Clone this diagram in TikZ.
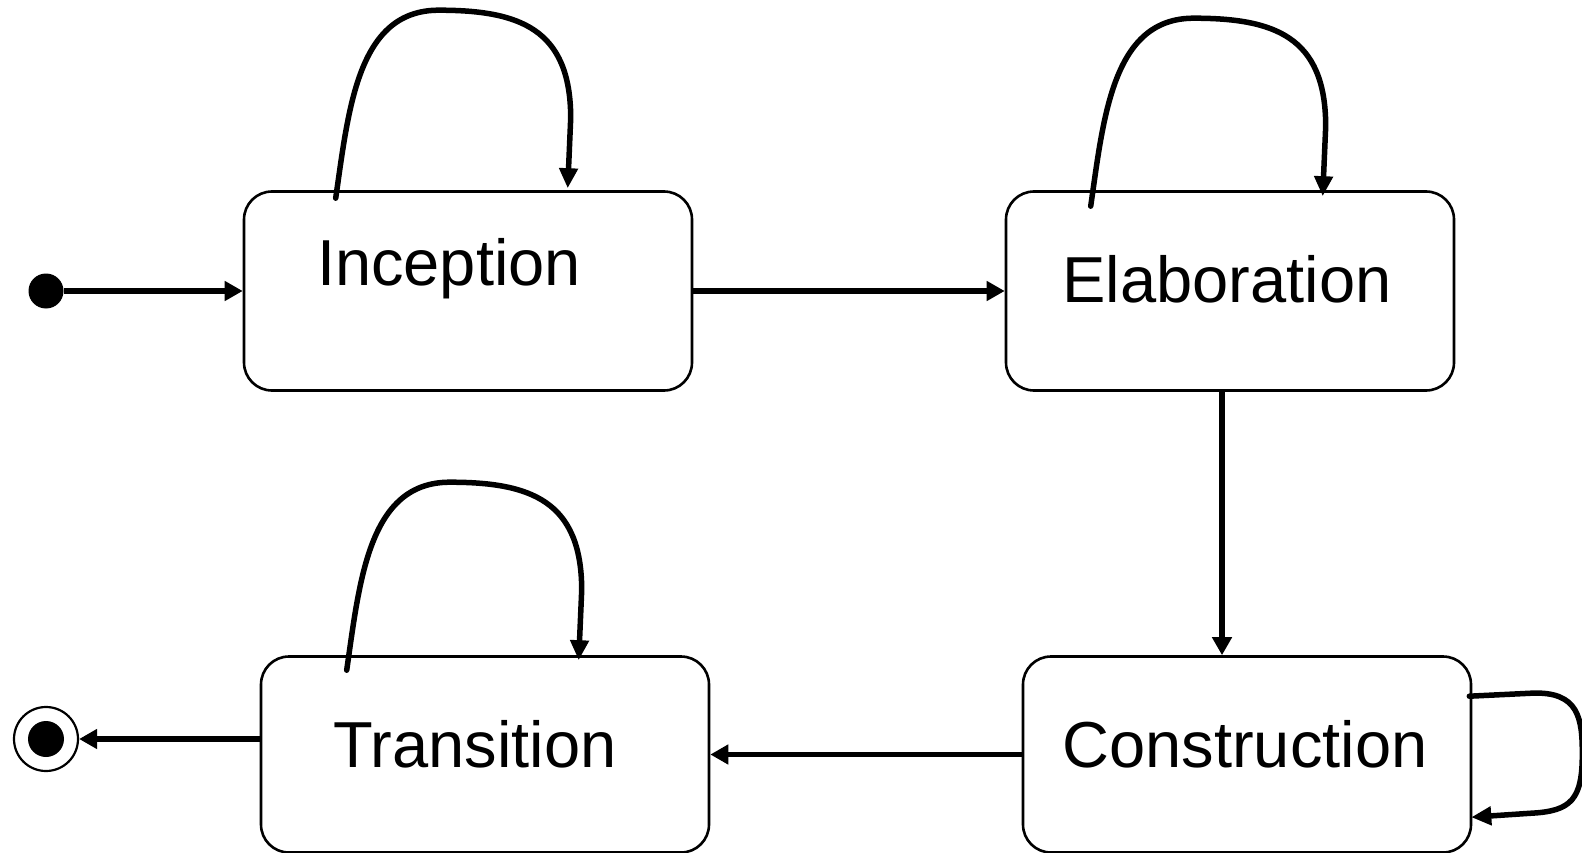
\documentclass[tikz,border=0pt]{standalone}
\usepackage{fontspec}
\setmainfont{Liberation Sans}
\usetikzlibrary{arrows.meta,calc}

\tikzset{
  state/.style={draw, line width=2.6pt, rounded corners=28pt,
    minimum width=448pt, minimum height=199pt, inner sep=0pt},
  statename/.style={anchor=base, inner sep=0pt,
    font=\fontsize{65}{78}\selectfont},
  flow/.style={line width=5.5pt, -{Triangle[length=18pt,width=19pt]}},
  selfloop/.style={line width=5.5pt, line cap=round,
    -{Triangle[length=20pt,width=18pt]}},
  arcloop/.pic={
    \draw[selfloop] (93,8) .. controls (106,-82) and (115,-180) .. (196,-180)
      .. controls (276,-180) and (328,-162) .. (328,-72) -- (325,-2);
  }
}

\begin{document}
\begin{tikzpicture}[x=1pt,y=-1pt]
\useasboundingbox (0,0) rectangle (1582,853);

% states
\node[state] (inc) at (468,291) {};
\node[state] (ela) at (1230,291) {};
\node[state, minimum height=196pt] (tra) at (485,754.5) {};
\node[state, minimum height=196pt] (con) at (1247,754.5) {};

\node[statename] at (449,285) {Inception};
\node[statename] at (1227,302) {Elaboration};
\node[statename] at (475,767) {Transition};
\node[statename] at (1245,767) {Construction};

% initial and final pseudo-states
\node[circle, fill, minimum size=35pt, inner sep=0pt] (ini) at (46,291) {};
\node[circle, draw, line width=2.2pt, minimum size=64pt, inner sep=0pt,
  path picture={\fill (path picture bounding box.center) circle (18pt);}]
  (fin) at (46,739) {};

% transitions
\draw[flow] (ini) -- (inc.west);
\draw[flow] (inc.east) -- (ela.west);
\draw[flow] ([xshift=-8pt]ela.south) -- ([xshift=-25pt]con.north);
\draw[flow] (con.west) -- (tra.east);
\draw[flow] ([yshift=15.5pt]tra.west) -- (fin.east);

% self transitions
\path (inc.north west) pic {arcloop};
\path ([xshift=-7pt,yshift=-8pt]ela.north west) pic {arcloop};
\path ([xshift=-6pt,yshift=-7pt]tra.north west) pic {arcloop};
\begin{scope}[shift={(con.north east)}]
  \draw[selfloop] (-3,41) -- (59,38) .. controls (107,35.7) and (110,64) .. (110,99)
    .. controls (110,144) and (99,156) .. (59,158) -- (-1,162);
\end{scope}
\end{tikzpicture}
\end{document}
